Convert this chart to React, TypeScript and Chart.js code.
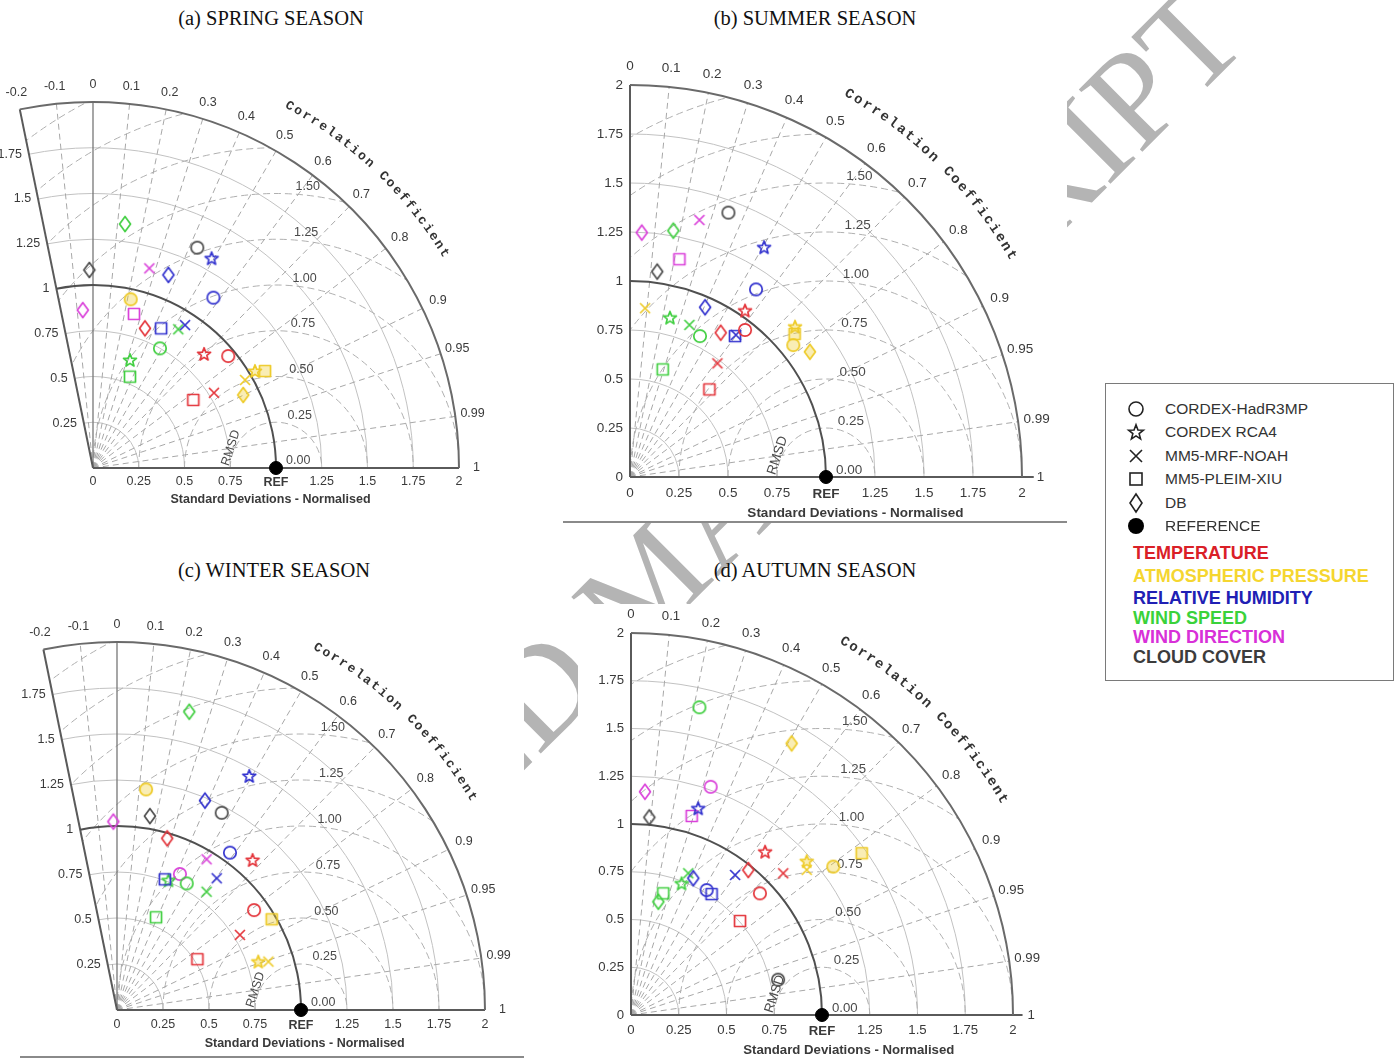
import React, { useEffect, useRef } from 'react';
import { Chart, registerables } from 'chart.js';

Chart.register(...registerables);

// ---------------- data ----------------
const MODELS = ['CORDEX-HadR3MP', 'CORDEX RCA4', 'MM5-MRF-NOAH', 'MM5-PLEIM-XIU', 'DB'];
const MODEL_KEYS = ['H', 'R', 'M', 'P', 'D'];
const MODEL_SHAPES = ['circle', 'star', 'cross', 'square', 'diamond'];

const VARIABLES = ['TEMPERATURE', 'ATMOSPHERIC PRESSURE', 'RELATIVE HUMIDITY', 'WIND SPEED', 'WIND DIRECTION', 'CLOUD COVER'];
const VARIABLE_KEYS = ['T', 'AP', 'RH', 'WS', 'WD', 'CC'];
const MARKER_COLORS = ['#e4363c', '#eecb2a', '#3434cf', '#42cf42', '#da42da', '#4d4d4d'];
const LABEL_COLORS = ['#da2027', '#f5d630', '#2020b4', '#3ad23a', '#d830d8', '#3c3c3c'];

const STD_TICKS = [0, 0.25, 0.5, 0.75, 1, 1.25, 1.5, 1.75, 2];
const CORR_TICKS = [-0.2, -0.1, 0, 0.1, 0.2, 0.3, 0.4, 0.5, 0.6, 0.7, 0.8, 0.9, 0.95, 0.99, 1];
const RMSD_LABELS = [0, 0.25, 0.5, 0.75, 1, 1.25, 1.5];
const RMSD_CIRCLES = [0.25, 0.5, 0.75, 1, 1.25, 1.5, 1.75, 2, 2.25, 2.5, 2.75];
const REF_STD = 1;
const STD_MAX = 2;

// [variable, model, x (std*corr), y (std*sin)]  normalised standard deviation space
type Pt = [string, string, number, number];

const SPRING: Pt[] = [
  ['T', 'H', 0.739, 0.612], ['T', 'R', 0.607, 0.623], ['T', 'M', 0.661, 0.411], ['T', 'P', 0.548, 0.372], ['T', 'D', 0.284, 0.763],
  ['AP', 'H', 0.206, 0.922], ['AP', 'R', 0.885, 0.530], ['AP', 'P', 0.940, 0.530], ['AP', 'M', 0.831, 0.481], ['AP', 'D', 0.821, 0.399],
  ['RH', 'H', 0.658, 0.931], ['RH', 'R', 0.648, 1.146], ['RH', 'M', 0.503, 0.781], ['RH', 'P', 0.372, 0.763], ['RH', 'D', 0.412, 1.055],
  ['WS', 'H', 0.366, 0.654], ['WS', 'R', 0.202, 0.590], ['WS', 'M', 0.466, 0.758], ['WS', 'P', 0.202, 0.499], ['WS', 'D', 0.175, 1.333],
  ['WD', 'M', 0.308, 1.091], ['WD', 'P', 0.224, 0.842], ['WD', 'D', -0.056, 0.863],
  ['CC', 'H', 0.570, 1.204], ['CC', 'D', -0.020, 1.082],
];

const SUMMER: Pt[] = [
  ['T', 'H', 0.587, 0.750], ['T', 'R', 0.587, 0.849], ['T', 'M', 0.446, 0.580], ['T', 'P', 0.405, 0.447], ['T', 'D', 0.463, 0.736],
  ['AP', 'H', 0.833, 0.673], ['AP', 'R', 0.842, 0.767], ['AP', 'M', 0.077, 0.861], ['AP', 'P', 0.840, 0.730], ['AP', 'D', 0.918, 0.639],
  ['RH', 'H', 0.643, 0.957], ['RH', 'R', 0.684, 1.172], ['RH', 'M', 0.540, 0.725], ['RH', 'P', 0.536, 0.719], ['RH', 'D', 0.383, 0.866],
  ['WS', 'H', 0.357, 0.719], ['WS', 'R', 0.204, 0.813], ['WS', 'M', 0.303, 0.776], ['WS', 'P', 0.167, 0.549], ['WS', 'D', 0.221, 1.257],
  ['WD', 'M', 0.354, 1.311], ['WD', 'P', 0.252, 1.111], ['WD', 'D', 0.060, 1.247],
  ['CC', 'H', 0.502, 1.349], ['CC', 'D', 0.139, 1.048],
];

const WINTER: Pt[] = [
  ['T', 'H', 0.745, 0.543], ['T', 'R', 0.737, 0.815], ['T', 'M', 0.668, 0.408], ['T', 'P', 0.437, 0.276], ['T', 'D', 0.273, 0.933],
  ['AP', 'H', 0.158, 1.199], ['AP', 'R', 0.768, 0.263], ['AP', 'M', 0.823, 0.263], ['AP', 'P', 0.841, 0.493],
  ['RH', 'H', 0.614, 0.855], ['RH', 'R', 0.719, 1.272], ['RH', 'M', 0.542, 0.716], ['RH', 'P', 0.260, 0.710], ['RH', 'D', 0.478, 1.138],
  ['WS', 'H', 0.379, 0.688], ['WS', 'R', 0.280, 0.705], ['WS', 'M', 0.487, 0.643], ['WS', 'P', 0.212, 0.504], ['WS', 'D', 0.393, 1.621],
  ['WD', 'H', 0.342, 0.739], ['WD', 'M', 0.487, 0.819], ['WD', 'D', -0.020, 1.024],
  ['CC', 'H', 0.569, 1.072], ['CC', 'D', 0.179, 1.054],
];

const AUTUMN: Pt[] = [
  ['T', 'H', 0.675, 0.637], ['T', 'R', 0.702, 0.855], ['T', 'M', 0.797, 0.742], ['T', 'P', 0.571, 0.492], ['T', 'D', 0.614, 0.759],
  ['AP', 'H', 1.059, 0.777], ['AP', 'R', 0.920, 0.805], ['AP', 'M', 0.920, 0.760], ['AP', 'P', 1.208, 0.847], ['AP', 'D', 0.841, 1.422],
  ['RH', 'H', 0.396, 0.654], ['RH', 'R', 0.352, 1.082], ['RH', 'M', 0.545, 0.733], ['RH', 'P', 0.422, 0.633], ['RH', 'D', 0.326, 0.716],
  ['WS', 'H', 0.358, 1.611], ['WS', 'R', 0.265, 0.689], ['WS', 'M', 0.300, 0.742], ['WS', 'P', 0.169, 0.637], ['WS', 'D', 0.143, 0.593],
  ['WD', 'H', 0.417, 1.195], ['WD', 'P', 0.318, 1.042], ['WD', 'D', 0.073, 1.169],
  ['CC', 'H', 0.770, 0.185], ['CC', 'D', 0.096, 1.035],
];

// ---------------- layout ----------------
type Panel = {
  key: string; title: string; titleX: number; titleY: number;
  box: { l: number; t: number; w: number; h: number };
  ox: number; oy: number; u: number; corrMin: number; axisEnd: number;
  fs: number; tickDy: number; titleCx: number; titleDy: number; ccStart: number; ccFs: number;
  points: Pt[];
};

const PANELS: Panel[] = [
  { key: 'a', title: '(a) SPRING SEASON', titleX: 271, titleY: 18, box: { l: 0, t: 36, w: 530, h: 474 }, ox: 93, oy: 468, u: 183, corrMin: -0.2, axisEnd: 2, fs: 12.5, tickDy: 14, titleCx: 0.97, titleDy: 32, ccStart: 61.5, ccFs: 13, points: SPRING },
  { key: 'b', title: '(b) SUMMER SEASON', titleX: 815, titleY: 18, box: { l: 563, t: 36, w: 504, h: 486 }, ox: 630, oy: 477, u: 196, corrMin: 0, axisEnd: 2.06, fs: 13.5, tickDy: 16, titleCx: 1.15, titleDy: 36, ccStart: 60.2, ccFs: 14, points: SUMMER },
  { key: 'c', title: '(c) WINTER SEASON', titleX: 274, titleY: 570, box: { l: 0, t: 604, w: 524, h: 456 }, ox: 117, oy: 1010, u: 184, corrMin: -0.2, axisEnd: 2, fs: 12.5, tickDy: 15, titleCx: 1.02, titleDy: 34, ccStart: 61, ccFs: 13, points: WINTER },
  { key: 'd', title: '(d) AUTUMN SEASON', titleX: 815, titleY: 570, box: { l: 578, t: 604, w: 489, h: 456 }, ox: 631, oy: 1015, u: 191, corrMin: 0, axisEnd: 2.05, fs: 13.2, tickDy: 15, titleCx: 1.14, titleDy: 35, ccStart: 60.2, ccFs: 14, points: AUTUMN },
];

// ---------------- markers ----------------
const markerCache = new Map<string, HTMLCanvasElement>();
function hexA(hex: string, a: number) {
  const n = parseInt(hex.slice(1), 16);
  return `rgba(${(n >> 16) & 255},${(n >> 8) & 255},${n & 255},${a})`;
}
function marker(shape: string, color: string, fill: boolean) {
  const key = shape + color + fill;
  const hit = markerCache.get(key);
  if (hit) return hit;
  const S = 20, m = 10;
  const c = document.createElement('canvas');
  c.width = S; c.height = S;
  const g = c.getContext('2d')!;
  g.strokeStyle = color; g.lineWidth = 1.7; g.lineJoin = 'round';
  g.fillStyle = hexA(color, 0.35);
  g.beginPath();
  if (shape === 'circle') g.arc(m, m, 6.2, 0, Math.PI * 2);
  else if (shape === 'square') g.rect(m - 5.5, m - 5.5, 11, 11);
  else if (shape === 'diamond') { g.moveTo(m, m - 7.5); g.lineTo(m + 5.5, m); g.lineTo(m, m + 7.5); g.lineTo(m - 5.5, m); g.closePath(); }
  else if (shape === 'star') {
    for (let i = 0; i < 10; i++) {
      const r = i % 2 ? 2.9 : 6.8;
      const a = -Math.PI / 2 + (i * Math.PI) / 5;
      const x = m + r * Math.cos(a), y = m + 0.5 + r * Math.sin(a);
      if (i) g.lineTo(x, y); else g.moveTo(x, y);
    }
    g.closePath();
  } else if (shape === 'cross') { g.moveTo(m - 5, m - 5); g.lineTo(m + 5, m + 5); g.moveTo(m + 5, m - 5); g.lineTo(m - 5, m + 5); }
  if (fill && shape !== 'cross') g.fill();
  g.stroke();
  markerCache.set(key, c);
  return c;
}

// ---------------- taylor grid plugin ----------------
function makeTaylorPlugin(p: Panel) {
  return {
    id: 'taylor' + p.key,
    beforeDatasetsDraw(chart: any) {
      const ctx: CanvasRenderingContext2D = chart.ctx;
      const xs = chart.scales.x, ys = chart.scales.y;
      const X = (v: number) => xs.getPixelForValue(v);
      const Y = (v: number) => ys.getPixelForValue(v);
      const ox = X(0), oy = Y(0), u = X(1) - X(0);
      const rx = X(REF_STD);
      const th = Math.acos(p.corrMin);
      const R = STD_MAX * u;
      const polar = (r: number, a: number): [number, number] => [ox + r * Math.cos(a), oy - r * Math.sin(a)];
      const font = `${p.fs}px "Liberation Sans", Arial, sans-serif`;
      const bold = `bold ${p.fs}px "Liberation Sans", Arial, sans-serif`;

      ctx.save();
      // clipped grid
      ctx.save();
      ctx.beginPath(); ctx.moveTo(ox, oy); ctx.arc(ox, oy, R, -th, 0); ctx.closePath(); ctx.clip();
      ctx.lineWidth = 1; ctx.strokeStyle = '#c2c2c2'; ctx.setLineDash([]);
      STD_TICKS.forEach((s) => {
        if (s > 0 && s < STD_MAX && s !== REF_STD) { ctx.beginPath(); ctx.arc(ox, oy, s * u, -th, 0); ctx.stroke(); }
      });
      ctx.setLineDash([7, 4]); ctx.strokeStyle = '#b0b0b0';
      RMSD_CIRCLES.forEach((r) => { ctx.beginPath(); ctx.arc(rx, oy, r * u, Math.PI, 2 * Math.PI); ctx.stroke(); });
      ctx.setLineDash([6, 4]); ctx.strokeStyle = '#a8a8a8';
      CORR_TICKS.forEach((c) => {
        if (c > p.corrMin && c < 1 && c !== 0) {
          const [x, y] = polar(R, Math.acos(c));
          ctx.beginPath(); ctx.moveTo(ox, oy); ctx.lineTo(x, y); ctx.stroke();
        }
      });
      ctx.restore();

      ctx.setLineDash([]);
      if (p.corrMin < 0) {
        ctx.strokeStyle = '#777'; ctx.lineWidth = 1.3;
        ctx.beginPath(); ctx.moveTo(ox, oy); ctx.lineTo(ox, oy - R); ctx.stroke();
      }
      ctx.strokeStyle = '#5a5a5a'; ctx.lineWidth = 2;
      ctx.beginPath(); ctx.moveTo(ox, oy); ctx.lineTo(X(p.axisEnd), oy); ctx.stroke();
      const [bx, by] = polar(R, th);
      ctx.beginPath(); ctx.moveTo(ox, oy); ctx.lineTo(bx, by); ctx.stroke();
      ctx.strokeStyle = '#505050';
      ctx.beginPath(); ctx.arc(ox, oy, REF_STD * u, -th, 0); ctx.stroke();
      ctx.strokeStyle = '#6a6a6a';
      ctx.beginPath(); ctx.arc(ox, oy, R, -th, 0); ctx.stroke();

      // labels
      ctx.fillStyle = '#3a3a3a';
      ctx.textBaseline = 'middle';
      ctx.textAlign = 'center';
      STD_TICKS.forEach((s) => {
        if (s === REF_STD) { ctx.font = bold; ctx.fillText('REF', X(s), oy + p.tickDy + 1); }
        else { ctx.font = font; ctx.fillText(String(s), X(s), oy + p.tickDy); }
      });
      ctx.font = font; ctx.textAlign = 'right';
      STD_TICKS.forEach((s) => {
        if (p.corrMin === 0) {
          ctx.fillText(String(s), ox - 7, Y(s));
        } else if (s > 0 && s < STD_MAX) {
          const [x, y] = polar(s * u, th);
          ctx.fillText(String(s), x - 7, y);
        }
      });
      ctx.textAlign = 'center';
      CORR_TICKS.forEach((c) => {
        if (c >= p.corrMin) {
          const [x, y] = polar(2.095 * u, Math.acos(c));
          ctx.fillText(String(c), x, y);
        }
      });
      ctx.textAlign = 'left'; ctx.fillStyle = '#4a4a4a';
      const ra = (88 * Math.PI) / 180;
      RMSD_LABELS.forEach((r) => {
        const x = rx + r * u * Math.cos(ra), y = oy - r * u * Math.sin(ra);
        ctx.fillText(r.toFixed(2), x + 10, y - 7);
      });
      const rmA = (156 * Math.PI) / 180;
      ctx.save();
      ctx.translate(rx + 0.27 * u * Math.cos(rmA), oy - 0.27 * u * Math.sin(rmA));
      ctx.rotate((-72 * Math.PI) / 180);
      ctx.textAlign = 'center'; ctx.font = font;
      ctx.fillText('RMSD', 0, 0);
      ctx.restore();
      ctx.fillStyle = '#3a3a3a';
      ctx.textAlign = 'center'; ctx.font = bold;
      ctx.fillText('Standard Deviations - Normalised', X(p.titleCx), oy + p.titleDy);
      const txt = 'Correlation Coefficient';
      ctx.font = `bold ${p.ccFs}px "Liberation Mono", "DejaVu Sans Mono", monospace`;
      ctx.fillStyle = '#333';
      for (let i = 0; i < txt.length; i++) {
        const aDeg = p.ccStart - (i * 30) / (txt.length - 1);
        const a = (aDeg * Math.PI) / 180;
        const [x, y] = polar(2.25 * u, a);
        ctx.save();
        ctx.translate(x, y);
        ctx.rotate(((90 - aDeg) * Math.PI) / 180);
        ctx.fillText(txt[i], 0, 0);
        ctx.restore();
      }
      ctx.restore();
    },
  };
}

function TaylorPanel({ panel }: { panel: Panel }) {
  const ref = useRef<HTMLCanvasElement>(null);
  const { box } = panel;
  useEffect(() => {
    const { ox, oy, u } = panel;
    const xMin = (box.l - ox) / u, xMax = (box.l + box.w - ox) / u;
    const yMax = (oy - box.t) / u, yMin = (oy - box.t - box.h) / u;
    const datasets: any[] = VARIABLE_KEYS.map((vk, vi) => {
      const pts = panel.points.filter((q) => q[0] === vk);
      return {
        label: VARIABLES[vi],
        data: pts.map((q) => ({ x: q[2], y: q[3] })),
        pointStyle: pts.map((q) => marker(MODEL_SHAPES[MODEL_KEYS.indexOf(q[1])], MARKER_COLORS[vi], vk === 'AP')),
        pointRadius: 7,
        borderColor: MARKER_COLORS[vi],
        backgroundColor: MARKER_COLORS[vi],
        showLine: false,
      };
    });
    datasets.push({
      label: 'REFERENCE',
      data: [{ x: REF_STD, y: 0 }],
      pointStyle: 'circle',
      pointRadius: 6.5,
      borderWidth: 1,
      borderColor: '#000',
      backgroundColor: '#000',
    });
    const chart = new Chart(ref.current!, {
      type: 'scatter',
      data: { datasets },
      options: {
        animation: false,
        responsive: false,
        maintainAspectRatio: false,
        events: [],
        layout: { padding: 0, autoPadding: false },
        plugins: { legend: { display: false }, tooltip: { enabled: false } },
        scales: {
          x: { type: 'linear', display: false, min: xMin, max: xMax, bounds: 'data' },
          y: { type: 'linear', display: false, min: yMin, max: yMax, bounds: 'data' },
        },
      } as any,
      plugins: [makeTaylorPlugin(panel)],
    });
    return () => chart.destroy();
  }, [panel]);
  return (
    <canvas
      ref={ref}
      width={box.w}
      height={box.h}
      style={{ position: 'absolute', left: box.l, top: box.t, width: box.w, height: box.h, background: '#fff' }}
    />
  );
}

// ---------------- legend ----------------
function starPoints(cx: number, cy: number) {
  const pts: string[] = [];
  for (let i = 0; i < 10; i++) {
    const r = i % 2 ? 3.3 : 7.8;
    const a = -Math.PI / 2 + (i * Math.PI) / 5;
    pts.push(`${(cx + r * Math.cos(a)).toFixed(2)},${(cy + 0.6 + r * Math.sin(a)).toFixed(2)}`);
  }
  return pts.join(' ');
}

function LegendMarker({ shape }: { shape: string }) {
  const st = { fill: 'none', stroke: '#222', strokeWidth: 1.6 };
  return (
    <svg width={22} height={22} style={{ position: 'absolute', left: 0, top: 0 }}>
      {shape === 'circle' && <circle cx={11} cy={11} r={7} {...st} />}
      {shape === 'star' && <polygon points={starPoints(11, 11)} {...st} />}
      {shape === 'cross' && <path d="M5 5 L17 17 M17 5 L5 17" {...st} />}
      {shape === 'square' && <rect x={5} y={5} width={12} height={12} {...st} />}
      {shape === 'diamond' && <polygon points="11,2 17,11 11,20 5,11" {...st} />}
      {shape === 'ref' && <circle cx={11} cy={11} r={8} fill="#000" />}
    </svg>
  );
}

const LEGEND_ROW_Y = [408, 431, 455, 478, 502, 525];
const LEGEND_VAR_Y = [552, 575, 597, 617, 636, 656];

function Legend() {
  const L = 1105, T = 383;
  const rows = [...MODELS.map((m, i) => ({ label: m, shape: MODEL_SHAPES[i] })), { label: 'REFERENCE', shape: 'ref' }];
  return (
    <div style={{ position: 'absolute', left: L, top: T, width: 289, height: 298, border: '1px solid #7a7a7a', boxSizing: 'border-box', background: '#fff' }}>
      {rows.map((r, i) => (
        <div key={r.label} style={{ position: 'absolute', left: 0, top: LEGEND_ROW_Y[i] - T - 11, width: 280, height: 22 }}>
          <div style={{ position: 'absolute', left: 19, top: 0, width: 22, height: 22 }}>
            <LegendMarker shape={r.shape} />
          </div>
          <div style={{ position: 'absolute', left: 59, top: 0, height: 22, lineHeight: '22px', fontFamily: '"Liberation Sans", Arial, sans-serif', fontSize: 15.5, color: '#333', whiteSpace: 'nowrap' }}>{r.label}</div>
        </div>
      ))}
      {VARIABLES.map((v, i) => (
        <div key={v} style={{ position: 'absolute', left: 27, top: LEGEND_VAR_Y[i] - T - 11, height: 22, lineHeight: '22px', fontFamily: '"Liberation Sans", Arial, sans-serif', fontWeight: 'bold', fontSize: 18, color: LABEL_COLORS[i], whiteSpace: 'nowrap' }}>{v}</div>
      ))}
    </div>
  );
}

// ---------------- app ----------------
export default function App() {
  return (
    <div style={{ position: 'absolute', left: 0, top: 0, width: 1400, height: 1060, overflow: 'hidden', background: '#fff' }}>
      <div
        style={{
          position: 'absolute', right: 1400 - 1251, top: 43 - 114,
          fontFamily: '"Liberation Serif", "Times New Roman", serif', fontSize: 136, lineHeight: '136px',
          color: '#b4b4b4', whiteSpace: 'nowrap', transformOrigin: '100% 114px', transform: 'rotate(-45deg)',
        }}
      >
        ACCEPTED MANUSCRIPT
      </div>
      {PANELS.map((p) => <TaylorPanel key={p.key} panel={p} />)}
      {PANELS.map((p) => (
        <div
          key={'t' + p.key}
          style={{ position: 'absolute', left: p.titleX - 200, top: p.titleY - 12, width: 400, height: 24, lineHeight: '24px', textAlign: 'center', fontFamily: '"Liberation Serif", "Times New Roman", serif', fontSize: 20.5, color: '#111' }}
        >
          {p.title}
        </div>
      ))}
      <div style={{ position: 'absolute', left: 563, top: 521, width: 504, height: 2, background: '#8a8a8a' }} />
      <div style={{ position: 'absolute', left: 20, top: 1056, width: 504, height: 2, background: '#8a8a8a' }} />
      <Legend />
    </div>
  );
}
